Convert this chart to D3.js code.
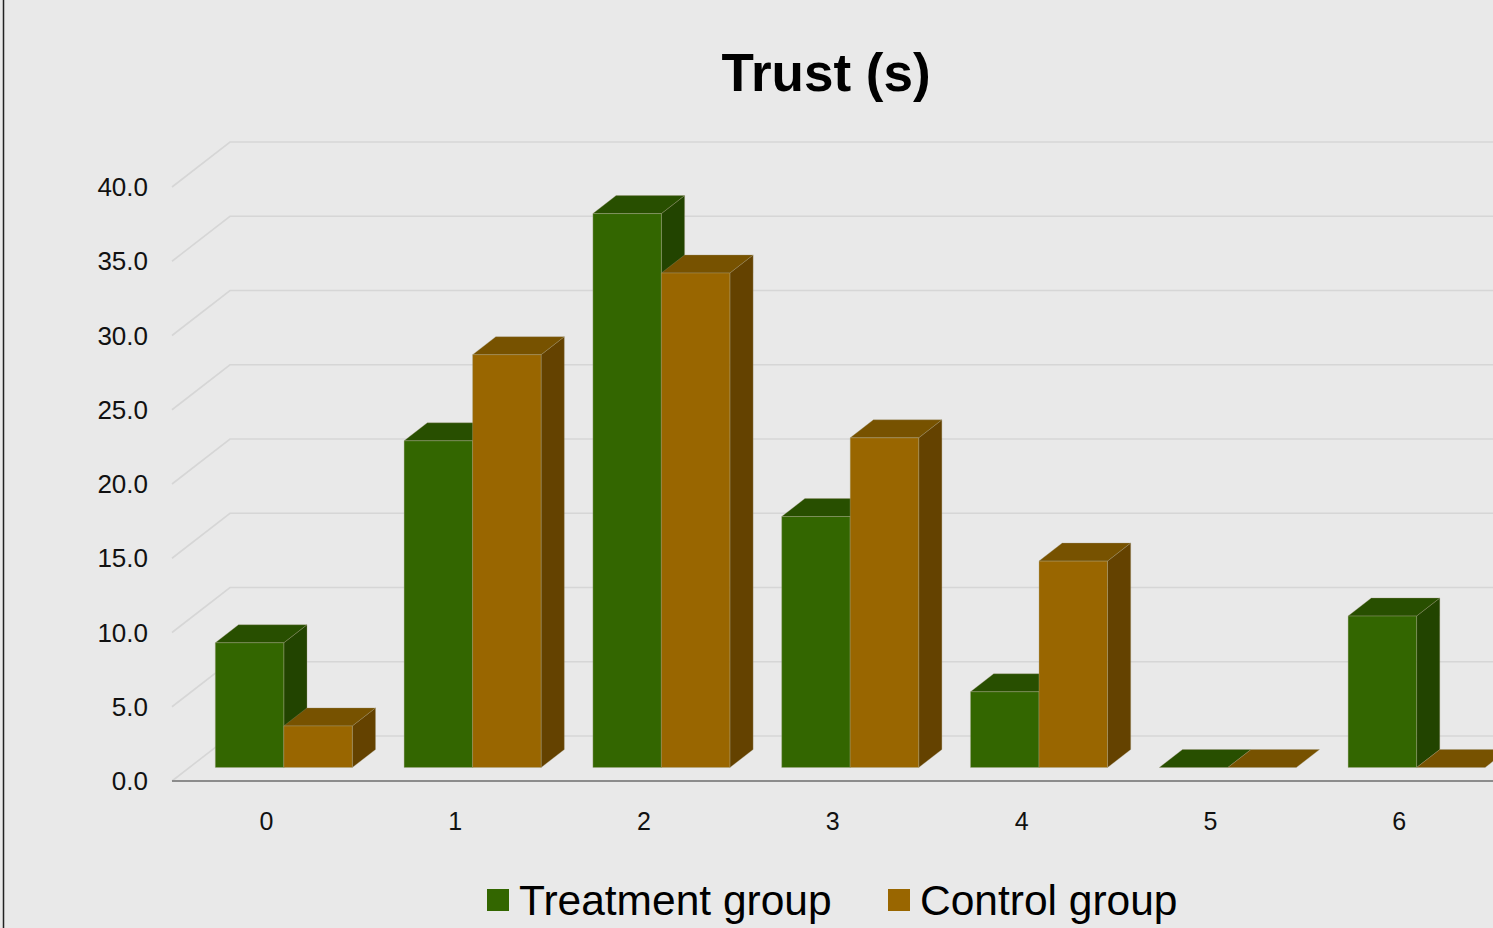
<!DOCTYPE html>
<html>
<head>
<meta charset="utf-8">
<script src="https://cdn.jsdelivr.net/npm/d3@7"></script>
<style>
  html, body { margin: 0; padding: 0; background: #e9e9e9; overflow: hidden; }
  svg { display: block; }
  text { font-family: "Liberation Sans", Arial, sans-serif; }
</style>
</head>
<body>
<svg id="chart" width="1493" height="928"></svg>
<script>
const categories = ["0", "1", "2", "3", "4", "5", "6"];
const seriesNames = ["Treatment group", "Control group"];
const treatment = [8.4, 22.0, 37.3, 16.9, 5.1, 0, 10.2];
const control = [2.8, 27.8, 33.3, 22.2, 13.9, 0, 0];
const yTicks = [0, 5, 10, 15, 20, 25, 30, 35, 40];
const chartTitle = "Trust (s)";

const seriesValues = [treatment, control];
const palette = [
  { front: "#336600", top: "#284f00", side: "#224400" },
  { front: "#996600", top: "#775200", side: "#644200" }
];

const W = 1493, H = 928;
const svg = d3.select("#chart");

svg.append("rect").attr("width", W).attr("height", H).attr("fill", "#e9e9e9");
svg.append("line").attr("x1", 3.5).attr("x2", 3.5).attr("y1", 0).attr("y2", H)
  .attr("stroke", "#222").attr("stroke-width", 1.5);

const x0 = 172, band = 188.8;
const x = d3.scaleBand().domain(categories).range([x0, x0 + band * categories.length]).padding(0);
const xs = d3.scaleBand().domain(seriesNames).range([0, x.bandwidth()]).paddingInner(0).paddingOuter(0.378);
const y = d3.scaleLinear().domain([0, 40]).range([781, 187]);

// depth (oblique projection)
const DX = 58, DY = 45;
const fFront = 0.30, fBack = 0.70;

// gridlines
const grid = svg.append("g");
yTicks.forEach(t => {
  const yy = y(t);
  grid.append("path")
    .attr("d", `M${x0},${yy} L${x0 + DX},${yy - DY} L${W + 5},${yy - DY}`)
    .attr("fill", "none").attr("stroke", "#d6d6d6").attr("stroke-width", 1.6);
});

// front axis line
svg.append("line").attr("x1", x0).attr("x2", W + 5).attr("y1", y(0)).attr("y2", y(0))
  .attr("stroke", "#8c8c8c").attr("stroke-width", 2.2);

// y tick labels
svg.append("g").selectAll("text").data(yTicks).join("text")
  .attr("x", 148).attr("y", d => y(d)).attr("text-anchor", "end")
  .attr("dominant-baseline", "central").attr("font-size", 26).attr("fill", "#111")
  .text(d => d3.format(".1f")(d));

// x labels
svg.append("g").selectAll("text").data(categories).join("text")
  .attr("x", d => x(d) + x.bandwidth() / 2).attr("y", 821)
  .attr("text-anchor", "middle").attr("dominant-baseline", "central")
  .attr("font-size", 25).attr("fill", "#111").text(d => d);

// bars
const bars = svg.append("g");
const fdx = DX * fFront, fdy = DY * fFront;
const ddx = DX * (fBack - fFront), ddy = DY * (fBack - fFront);
categories.forEach((c, i) => {
  seriesNames.forEach((s, j) => {
    const v = seriesValues[j][i];
    const col = palette[j];
    const bx = x(c) + xs(s) + fdx;
    const bw = xs.bandwidth();
    const base = y(0) - fdy;
    const top = y(v) - fdy;
    const g = bars.append("g").attr("stroke-width", 0.8).attr("stroke-linejoin", "round");
    if (v > 0) {
      g.append("path")
        .attr("d", `M${bx + bw},${top} L${bx + bw + ddx},${top - ddy} L${bx + bw + ddx},${base - ddy} L${bx + bw},${base} Z`)
        .attr("fill", col.side).attr("stroke", "rgba(160,150,120,0.4)");
    }
    g.append("path")
      .attr("d", `M${bx},${top} L${bx + ddx},${top - ddy} L${bx + bw + ddx},${top - ddy} L${bx + bw},${top} Z`)
      .attr("fill", col.top).attr("stroke", "rgba(160,150,120,0.4)");
    if (v > 0) {
      g.append("rect").attr("x", bx).attr("y", top).attr("width", bw).attr("height", base - top)
        .attr("fill", col.front).attr("stroke", "rgba(170,170,140,0.45)");
    }
  });
});

// title
svg.append("text").attr("x", 826).attr("y", 91).attr("text-anchor", "middle")
  .attr("font-size", 53).attr("font-weight", "bold").attr("fill", "#000").text(chartTitle);

// legend
const legendItems = [
  { name: seriesNames[0], color: palette[0].front, sx: 487 },
  { name: seriesNames[1], color: palette[1].front, sx: 888 }
];
const lg = svg.append("g");
legendItems.forEach(it => {
  lg.append("rect").attr("x", it.sx).attr("y", 889).attr("width", 22).attr("height", 22).attr("fill", it.color);
  lg.append("text").attr("x", it.sx + 32).attr("y", 915).attr("font-size", 42.5).attr("fill", "#000").text(it.name);
});
</script>
</body>
</html>
